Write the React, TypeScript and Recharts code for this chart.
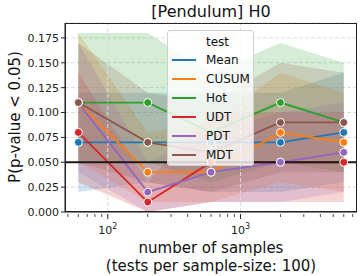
import React from 'react';
import { ComposedChart, Area, Line, XAxis, YAxis, CartesianGrid, ReferenceLine } from 'recharts';

const samples = [60, 200, 600, 2000, 6000];

const meanVals = [0.07, 0.07, 0.07, 0.07, 0.08];
const meanLo = [0.02, 0.03, 0.02, 0.02, 0.03];
const meanHi = [0.12, 0.12, 0.12, 0.12, 0.14];

const cusumVals = [0.11, 0.04, 0.04, 0.08, 0.07];
const cusumLo = [0.05, 0.01, 0.01, 0.03, 0.02];
const cusumHi = [0.18, 0.08, 0.09, 0.14, 0.12];

const hotVals = [0.11, 0.11, 0.08, 0.11, 0.09];
const hotLo = [0.05, 0.05, 0.03, 0.05, 0.04];
const hotHi = [0.18, 0.18, 0.14, 0.17, 0.15];

const udtVals = [0.08, 0.01, 0.05, 0.05, 0.05];
const udtLo = [0.03, 0.0, 0.01, 0.01, 0.01];
const udtHi = [0.14, 0.03, 0.1, 0.1, 0.1];

const pdtVals = [0.11, 0.02, 0.04, 0.05, 0.06];
const pdtLo = [0.04, 0.0, 0.01, 0.01, 0.02];
const pdtHi = [0.17, 0.05, 0.08, 0.1, 0.11];

const mdtVals = [0.11, 0.07, 0.06, 0.09, 0.09];
const mdtLo = [0.05, 0.03, 0.02, 0.04, 0.04];
const mdtHi = [0.17, 0.12, 0.11, 0.15, 0.14];

const yTicks = [0, 0.025, 0.05, 0.075, 0.1, 0.125, 0.15, 0.175];
const xMajor = [100, 1000];
const xMinor = [50, 60, 70, 80, 90, 200, 300, 400, 500, 600, 700, 800, 900, 2000, 3000, 4000, 5000, 6000, 7000];

const series = [
  { name: 'Mean', color: '#1f77b4', vals: meanVals, lo: meanLo, hi: meanHi },
  { name: 'CUSUM', color: '#ff7f0e', vals: cusumVals, lo: cusumLo, hi: cusumHi },
  { name: 'Hot', color: '#2ca02c', vals: hotVals, lo: hotLo, hi: hotHi },
  { name: 'UDT', color: '#d62728', vals: udtVals, lo: udtLo, hi: udtHi },
  { name: 'PDT', color: '#9467bd', vals: pdtVals, lo: pdtLo, hi: pdtHi },
  { name: 'MDT', color: '#8c564b', vals: mdtVals, lo: mdtLo, hi: mdtHi },
];

const rows = samples.map((n, i) => {
  const r: any = { n };
  series.forEach((s) => {
    r[s.name] = s.vals[i];
    r[s.name + '_ci'] = [s.lo[i], s.hi[i]];
  });
  return r;
});

const FONT = '"DejaVu Sans", sans-serif';

const XTick = (props: any) => {
  const { x, y, payload } = props;
  const major = xMajor.includes(payload.value);
  return (
    <g>
      <line x1={x} x2={x} y1={y} y2={y + (major ? 5 : 3)} stroke="#222" strokeWidth={major ? 1 : 0.8} />
      {major && (
        <text x={x} y={y + 20} textAnchor="middle" fontSize={11} fontFamily={FONT} fill="#222">
          10
          <tspan fontSize={8} dy={-5}>
            {Math.round(Math.log10(payload.value))}
          </tspan>
        </text>
      )}
    </g>
  );
};

export default function App() {
  return (
    <div style={{ position: 'absolute', left: 0, top: 0, width: 363, height: 276, background: '#fff', fontFamily: FONT }}>
      <ComposedChart width={363} height={276} data={rows} margin={{ top: 23, right: 6, bottom: 0, left: 0 }}>
        <CartesianGrid horizontal vertical={false} stroke="#dcdcdc" strokeDasharray="4 2" />
        {xMajor.map((v) => (
          <ReferenceLine key={v} x={v} stroke="#dcdcdc" strokeDasharray="4 2" />
        ))}
        <XAxis
          dataKey="n"
          type="number"
          scale="log"
          domain={[47.6, 7550]}
          allowDataOverflow
          ticks={[...xMajor, ...xMinor]}
          interval={0}
          tick={<XTick />}
          tickLine={false}
          tickSize={0}
          height={64}
          stroke="#222"
        />
        <YAxis
          type="number"
          domain={[0, 0.19]}
          allowDataOverflow
          ticks={yTicks}
          interval={0}
          width={65}
          tickFormatter={(v: number) => v.toFixed(3)}
          tick={{ fontSize: 11, fontFamily: FONT, fill: '#222' }}
          tickSize={4}
          stroke="#222"
        />
        {series.map((s) => (
          <Area
            key={s.name + '_band'}
            dataKey={s.name + '_ci'}
            type="linear"
            fill={s.color}
            fillOpacity={0.2}
            stroke="none"
            isAnimationActive={false}
            dot={false}
            activeDot={false}
          />
        ))}
        {series.map((s) => (
          <Line
            key={s.name}
            dataKey={s.name}
            type="linear"
            stroke={s.color}
            strokeWidth={1.8}
            dot={{ r: 4, fill: s.color, stroke: '#fff', strokeWidth: 1 }}
            activeDot={false}
            isAnimationActive={false}
          />
        ))}
        <ReferenceLine y={0.05} stroke="#1a1a1a" strokeWidth={2} />
      </ComposedChart>

      {/* frame */}
      <div style={{ position: 'absolute', left: 65, top: 23, width: 292, height: 189, border: '1px solid #222', boxSizing: 'border-box', pointerEvents: 'none' }} />

      <div style={{ position: 'absolute', left: 65, width: 292, top: 2, textAlign: 'center', fontSize: 16, color: '#111' }}>
        [Pendulum] H0
      </div>
      <div
        style={{
          position: 'absolute',
          left: 15,
          top: 117,
          transform: 'translate(-50%, -50%) rotate(-90deg)',
          whiteSpace: 'nowrap',
          fontSize: 15,
          color: '#111',
        }}
      >
        P(p-value &lt; 0.05)
      </div>
      <div style={{ position: 'absolute', left: 65, width: 292, top: 239, textAlign: 'center', fontSize: 15, lineHeight: '18px', color: '#111' }}>
        number of samples
        <br />
        (tests per sample-size: 100)
      </div>

      {/* legend */}
      <div
        style={{
          position: 'absolute',
          left: 167,
          top: 30,
          width: 87,
          height: 136,
          background: 'rgba(255,255,255,0.8)',
          border: '1px solid #d0d0d0',
          borderRadius: 3,
          boxSizing: 'border-box',
          fontSize: 12,
          color: '#111',
        }}
      >
        <div style={{ position: 'absolute', left: 38, top: 3, lineHeight: '16px' }}>test</div>
        {series.map((s, i) => (
          <div key={s.name} style={{ position: 'absolute', left: 0, top: 21 + i * 19, height: 16, width: 87 }}>
            <svg width={30} height={16} style={{ position: 'absolute', left: 4, top: 0 }}>
              <line x1={0} x2={24} y1={8} y2={8} stroke={s.color} strokeWidth={2} />
            </svg>
            <span style={{ position: 'absolute', left: 38, top: 0, lineHeight: '16px' }}>{s.name}</span>
          </div>
        ))}
      </div>
    </div>
  );
}
